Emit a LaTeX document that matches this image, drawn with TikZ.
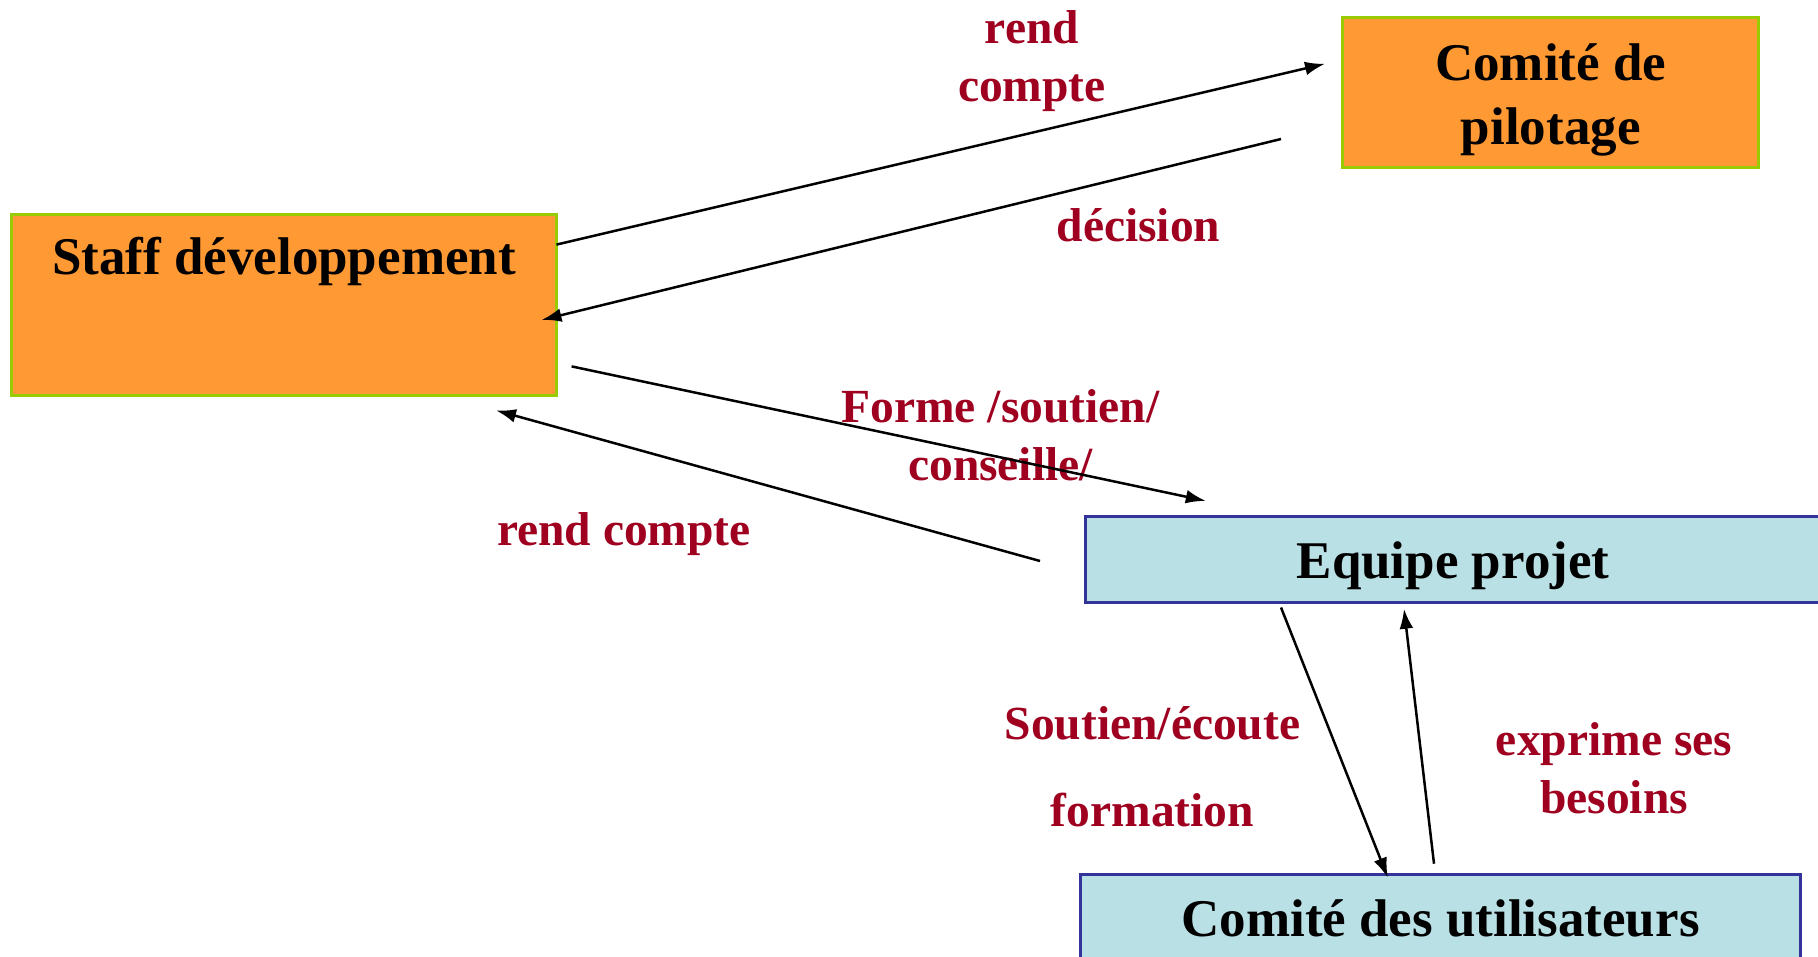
\documentclass[tikz,border=0pt]{standalone}
\usepackage{fontspec}
\setmainfont{Liberation Serif}
\usetikzlibrary{arrows.meta}

\definecolor{boxorange}{RGB}{255,153,51}
\definecolor{boxgreen}{RGB}{153,204,0}
\definecolor{boxblue}{RGB}{185,224,228}
\definecolor{boxedge}{RGB}{51,51,153}
\definecolor{labelred}{RGB}{160,0,32}

\tikzset{
  orangebox/.style={draw=boxgreen,fill=boxorange,line width=1.2pt,inner sep=0pt,
    align=flush center,font=\fontsize{21.2}{25.4}\selectfont\bfseries},
  bluebox/.style={draw=boxedge,fill=boxblue,line width=1.2pt,inner sep=0pt,
    align=flush center,font=\fontsize{21.2}{25.4}\selectfont\bfseries},
  lbl/.style={text=labelred,align=center,font=\fontsize{19}{23.2}\selectfont\bfseries},
  arr/.style={-{Latex[length=8pt,width=5.5pt]},line width=1pt}
}

\begin{document}
\begin{tikzpicture}[x=0.4pt,y=-0.4pt]
\useasboundingbox (0,0) rectangle (1818,957);

% boxes
\node[orangebox,text width=218pt,text height=23.8pt,text depth=48.4pt] (staff) at (284,305) {Staff développement};
\node[orangebox,text width=166.4pt,text height=25.4pt,text depth=34.8pt] (pilotage) at (1550.7,92.7) {Comité de\\pilotage};
\node[bluebox,text width=294.4pt,text height=24.7pt,text depth=9.3pt] (equipe) at (1453,559.5) {Equipe projet};
\node[bluebox,minimum width=288pt,minimum height=35.2pt] (users) at (1440.5,918) {Comité des utilisateurs};

% labels
\node[lbl] (rendcompteA) at (1032,61.5) {rend\\compte};
\node[lbl] (decision) at (1138.5,225) {décision};
\node[lbl] (forme) at (1000.5,435) {Forme /soutien/\\conseille/};
\node[lbl] (rendcompteB) at (624,534.5) {rend compte};
\node[lbl] (soutien) at (1152.5,767) {Soutien/écoute\\[11.6pt]formation};
\node[lbl] (exprime) at (1614,768) {exprime ses\\besoins};

% arrow ends
\coordinate (s1) at (556.5,244.6);  \coordinate (p1) at (1325,63.8);
\coordinate (p2) at (1281,139);     \coordinate (s2) at (541.5,320);
\coordinate (s3) at (571.6,366.4);  \coordinate (e3) at (1205.8,500.9);
\coordinate (e4) at (1040,561);     \coordinate (s4) at (496,410.4);
\coordinate (e5) at (1281,607.5);   \coordinate (u5) at (1387.8,877.7);
\coordinate (u6) at (1434,863.7);   \coordinate (e6) at (1404,608.7);

\draw[arr] (s1) -- (p1);
\draw[arr] (p2) -- (s2);
\draw[arr] (s3) -- (e3);
\draw[arr] (e4) -- (s4);
\draw[arr] (e5) -- (u5);
\draw[arr] (u6) -- (e6);
\end{tikzpicture}
\end{document}
